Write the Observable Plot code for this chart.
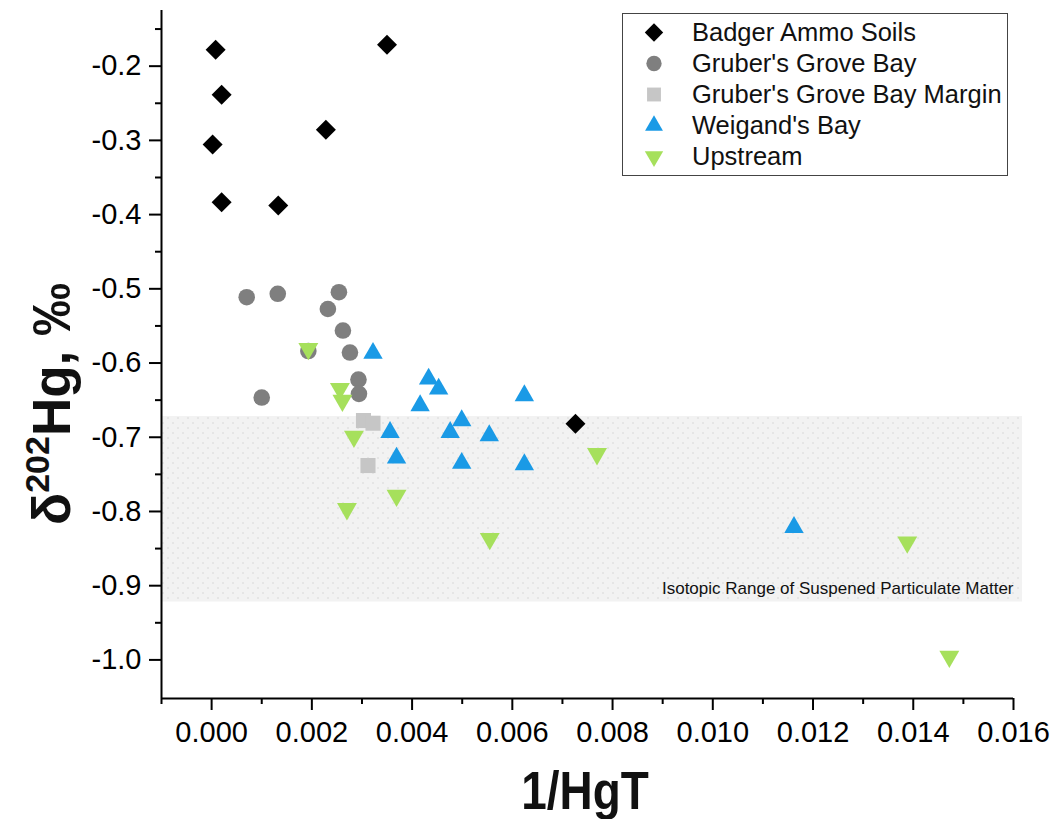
<!DOCTYPE html>
<html>
<head>
<meta charset="utf-8">
<script src="https://cdn.jsdelivr.net/npm/d3@7"></script>
<script src="https://cdn.jsdelivr.net/npm/@observablehq/plot@0.6"></script>
<style>
  body { margin: 0; background: #fff; }
  #wrap { position: relative; width: 1052px; height: 819px; font-family: "Liberation Sans", Arial, sans-serif; }
  #legend { position: absolute; left: 622px; top: 13px; width: 386px; height: 163px; box-sizing: border-box;
            border: 1px solid #444; background: #fff; padding-top: 3px; }
  .row { position: relative; height: 31px; }
  .row svg { position: absolute; left: 16px; top: 0; }
  .row span { position: absolute; left: 69px; font-size: 25.5px; color: #111; white-space: nowrap; line-height: 31px; top: 0; }
</style>
</head>
<body>
<div id="wrap"></div>
<script>
// ---- data ----
const series = ["Badger Ammo Soils", "Gruber's Grove Bay", "Gruber's Grove Bay Margin", "Weigand's Bay", "Upstream"];

const badgerX = [0.00008, 0.0002, 0.00002, 0.0002, 0.00133, 0.00228, 0.0035, 0.00726];
const badgerY = [-0.178, -0.2385, -0.3055, -0.3833, -0.3877, -0.2857, -0.1712, -0.6819];

const grubersX = [0.0007, 0.00132, 0.00254, 0.00232, 0.00262, 0.00276, 0.00193, 0.00293, 0.00294, 0.001];
const grubersY = [-0.5113, -0.5067, -0.5046, -0.5272, -0.5562, -0.5859, -0.5838, -0.6222, -0.6415, -0.6465];

const marginX = [0.00303, 0.00322, 0.00312];
const marginY = [-0.6775, -0.6811, -0.7381];

const weigandX = [0.00322, 0.00433, 0.00453, 0.00416, 0.00624, 0.00356, 0.00476, 0.00499, 0.00554, 0.00369, 0.00499, 0.00624, 0.01162];
const weigandY = [-0.5868, -0.6213, -0.6348, -0.6573, -0.6438, -0.6933, -0.6933, -0.6775, -0.6977, -0.7278, -0.735, -0.7368, -0.8213];

const upstreamX = [0.00193, 0.00256, 0.00261, 0.00284, 0.00369, 0.0027, 0.00555, 0.00769, 0.01388, 0.01472];
const upstreamY = [-0.5809, -0.6348, -0.6505, -0.6991, -0.7786, -0.7965, -0.8369, -0.7224, -0.8415, -0.9955];

// shaded band: isotopic range of suspended particulate matter
const bandY = [-0.922, -0.672];
const bandX = [-0.001, 0.01618];
const bandLabel = "Isotopic Range of Suspened Particulate Matter";
const bandLabelPos = [0.016, -0.904];

// axes
const xDomain = [-0.001, 0.016];
const yDomain = [-1.052, -0.125];
const xMajor = [0, 0.002, 0.004, 0.006, 0.008, 0.010, 0.012, 0.014, 0.016];
const xMinor = [-0.001, 0.001, 0.003, 0.005, 0.007, 0.009, 0.011, 0.013, 0.015];
const yMajor = [-1.0, -0.9, -0.8, -0.7, -0.6, -0.5, -0.4, -0.3, -0.2];
const yMinor = [-0.95, -0.85, -0.75, -0.65, -0.55, -0.45, -0.35, -0.25, -0.15];

// ---- styles ----
const seriesColors = ["#000000", "#7f7f7f", "#c6c6c6", "#1a9ae6", "#a6e05c"];
const seriesSymbols = ["diamond2", "circle", "square", "triangle", "triangle"];
const seriesD3Symbols = [d3.symbolDiamond2, d3.symbolCircle, d3.symbolSquare, d3.symbolTriangle, d3.symbolTriangle];
const seriesRotate = [0, 0, 0, 0, 180];
const seriesR = [9, 8.3, 8.5, 7.2, 7.4];

const xs = [badgerX, grubersX, marginX, weigandX, upstreamX];
const ys = [badgerY, grubersY, marginY, weigandY, upstreamY];
const pts = xs.map((arr, s) => arr.map((x, i) => ({x, y: ys[s][i], s})));

const font = "Liberation Sans, Arial, sans-serif";
const loc = d3.formatLocale({decimal: ".", thousands: ",", grouping: [3], currency: ["$", ""], minus: "-"});

const chart = Plot.plot({
  width: 1052, height: 819,
  marginLeft: 161, marginRight: 39, marginTop: 10, marginBottom: 121,
  style: {fontFamily: font, background: "#fff", color: "#000", overflow: "visible"},
  x: {domain: xDomain, label: null},
  y: {domain: yDomain, label: null},
  marks: [
    Plot.rect([0], {x1: () => bandX[0], x2: () => bandX[1], y1: () => bandY[0], y2: () => bandY[1], fill: "url(#spmPattern)"}),
    Plot.text([bandLabel], {x: () => bandLabelPos[0], y: () => bandLabelPos[1], text: d => d, textAnchor: "end", fontSize: 17, fill: "#111"}),
    ...pts.map((p, s) => Plot.dot(p, {x: "x", y: "y", symbol: () => seriesSymbols[s], r: seriesR[s], rotate: seriesRotate[s], fill: seriesColors[s], stroke: "none"})),
    Plot.ruleX([xDomain[0]], {stroke: "#000", strokeWidth: 2}),
    Plot.ruleY([yDomain[0]], {stroke: "#000", strokeWidth: 2}),
    Plot.axisX({ticks: xMajor, tickSize: 12, tickPadding: 11, tickFormat: loc.format(".3f"), fontSize: 29, strokeWidth: 2, label: null}),
    Plot.axisX({ticks: xMinor, tickSize: 6, tickFormat: () => "", strokeWidth: 2, label: null}),
    Plot.axisY({ticks: yMajor, tickSize: 12, tickPadding: 8, tickFormat: loc.format(".1f"), fontSize: 29, strokeWidth: 2, label: null}),
    Plot.axisY({ticks: yMinor, tickSize: 6, tickFormat: () => "", strokeWidth: 2, label: null})
  ]
});

// pattern for the band
const svg = d3.select(chart);
const defs = svg.insert("defs", ":first-child");
const pat = defs.append("pattern").attr("id", "spmPattern").attr("patternUnits", "userSpaceOnUse")
  .attr("width", 10).attr("height", 10);
pat.append("rect").attr("width", 10).attr("height", 10).attr("fill", "#f2f2f2");
[[2, 2], [3, 2], [2, 3], [3, 3], [7, 7], [8, 7], [7, 8], [8, 8]].forEach(([cx, cy]) =>
  pat.append("rect").attr("x", cx).attr("y", cy).attr("width", 0.6).attr("height", 0.6).attr("fill", "#d0d0d0"));

// axis titles
const yt = svg.append("text").attr("transform", "translate(70,404) rotate(-90)")
  .attr("text-anchor", "middle").attr("font-family", font).attr("font-weight", "bold").attr("font-size", 53).attr("fill", "#111");
yt.append("tspan").text("δ");
yt.append("tspan").attr("font-size", 34).attr("dy", -21).text("202");
yt.append("tspan").attr("dy", 21).text("Hg, ‰");

svg.append("text").attr("transform", "translate(585,809) scale(0.85,1)").attr("text-anchor", "middle")
  .attr("font-family", font).attr("font-weight", "bold").attr("font-size", 54).attr("fill", "#111").text("1/HgT");

const wrap = document.getElementById("wrap");
wrap.appendChild(chart);

// legend
const legend = document.createElement("div");
legend.id = "legend";
series.forEach((name, s) => {
  const row = document.createElement("div");
  row.className = "row";
  const path = d3.symbol(seriesD3Symbols[s], Math.PI * seriesR[s] * seriesR[s] * 0.85)();
  row.innerHTML = `<svg width="30" height="31"><path d="${path}" fill="${seriesColors[s]}" transform="translate(15,15.5) rotate(${seriesRotate[s]})"/></svg><span>${name}</span>`;
  legend.appendChild(row);
});
wrap.appendChild(legend);
</script>
</body>
</html>
